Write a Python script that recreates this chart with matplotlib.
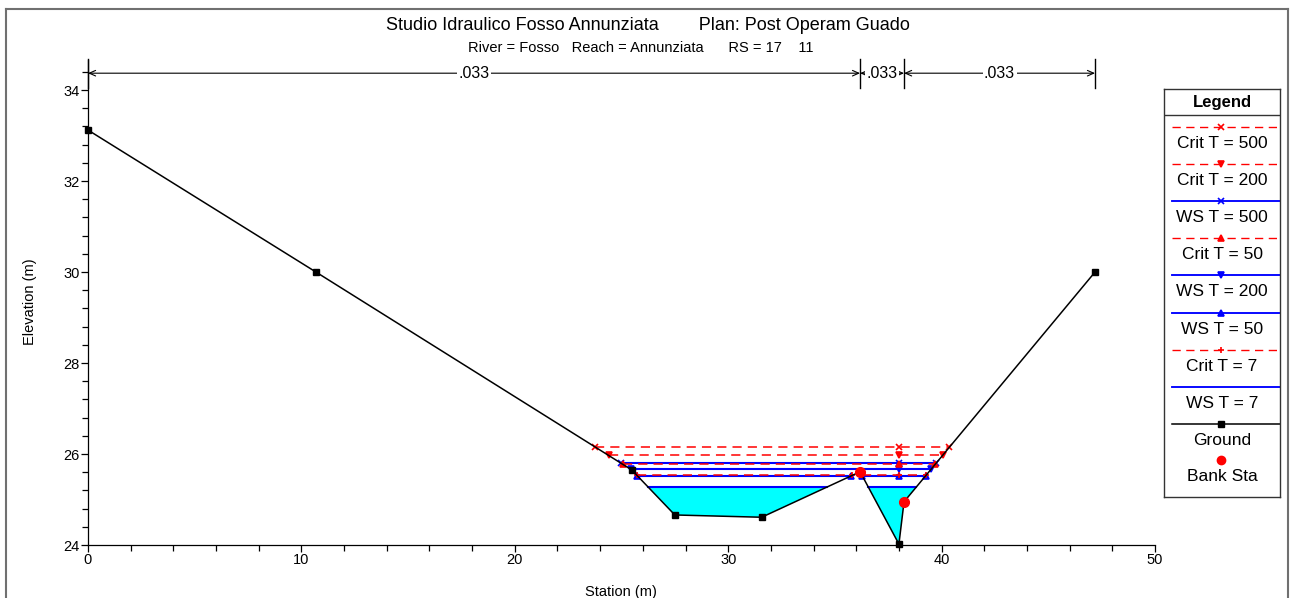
import numpy as np
import matplotlib
matplotlib.use("Agg")
import matplotlib.pyplot as plt
from matplotlib.lines import Line2D

plt.rcParams['font.family'] = ['Liberation Sans', 'DejaVu Sans']

# Geometria sezione (stazione, quota)
sta = [0.0, 10.68, 25.48, 27.5, 31.57, 36.18, 38.0, 38.24, 47.19]
elev = [33.12, 30.0, 25.65, 24.66, 24.61, 25.61, 24.02, 24.95, 30.0]
bank_sta = [36.18, 38.24]

# Manning
n_breaks = [0.0, 36.18, 38.24, 47.19]
n_values = [".033", ".033", ".033"]

# Profili (nome, quota)
profiles = ["Crit T = 500", "Crit T = 200", "WS T = 500", "Crit T = 50",
            "WS T = 200", "WS T = 50", "Crit T = 7", "WS T = 7"]
wsel = [26.15, 25.97, 25.80, 25.77, 25.66, 25.52, 25.53, 25.27]

styles = {
    "Crit T = 500": dict(color="#FF0000", ls=(0, (6, 4)), lw=1.1, marker="x", ms=5),
    "Crit T = 200": dict(color="#FF0000", ls=(0, (6, 4)), lw=1.1, marker="v", ms=5),
    "WS T = 500": dict(color="#0000FF", ls="-", lw=1.5, marker="x", ms=5),
    "Crit T = 50": dict(color="#FF0000", ls=(0, (6, 4)), lw=1.1, marker="^", ms=5),
    "WS T = 200": dict(color="#0000FF", ls="-", lw=1.5, marker="v", ms=5),
    "WS T = 50": dict(color="#0000FF", ls="-", lw=1.5, marker="^", ms=5),
    "Crit T = 7": dict(color="#FF0000", ls=(0, (6, 4)), lw=1.1, marker="+", ms=5),
    "WS T = 7": dict(color="#0000FF", ls="-", lw=1.5, marker=None, ms=5),
}


def wet_segments(level):
    """intervalli di stazione dove il terreno sta sotto la quota"""
    xs = []
    for i in range(len(sta) - 1):
        e0, e1 = elev[i] - level, elev[i + 1] - level
        if e0 * e1 < 0:
            xs.append(sta[i] + (sta[i + 1] - sta[i]) * e0 / (e0 - e1))
    return [(xs[k], xs[k + 1]) for k in range(0, len(xs) - 1, 2)]


fig = plt.figure(figsize=(12.91, 5.98), dpi=100)
ax = fig.add_axes([88 / 1291, 1 - 545 / 598, (1155 - 88) / 1291, (545 - 60) / 598])

x_thalweg = sta[int(np.argmin(elev))]

# acqua T=7 riempita
ws7 = wsel[profiles.index("WS T = 7")]
ax.fill_between(sta, elev, ws7, where=np.array(elev) < ws7, interpolate=True,
                color="#00FFFF", lw=0, zorder=1)

draw_order = ["WS T = 7", "WS T = 50", "WS T = 200", "WS T = 500",
              "Crit T = 7", "Crit T = 50", "Crit T = 200", "Crit T = 500"]
for name in draw_order:
    lvl = wsel[profiles.index(name)]
    st = styles[name]
    for x0, x1 in wet_segments(lvl):
        xp = [x0, x1]
        if x0 < x_thalweg < x1:
            xp = [x0, x_thalweg, x1]
        ax.plot(xp, [lvl] * len(xp), color=st["color"], ls=st["ls"], lw=st["lw"],
                marker=st["marker"], ms=st["ms"], mew=1.2, zorder=3)

# terreno
ax.plot(sta, elev, color="black", lw=1.1, marker="s", ms=5, zorder=4, clip_on=False)
bank_elev = np.interp(bank_sta, sta, elev)
ax.plot(bank_sta, bank_elev, "o", color="#FF0000", ms=7, zorder=5, ls="none")

# Manning
y_n = 34.37
for i in range(len(n_values)):
    ax.annotate("", xy=(n_breaks[i], y_n), xytext=(n_breaks[i + 1], y_n),
                arrowprops=dict(arrowstyle="<->,head_length=0.45,head_width=0.2",
                                lw=0.8, color="black", shrinkA=0, shrinkB=0),
                annotation_clip=False)
    ax.text((n_breaks[i] + n_breaks[i + 1]) / 2, y_n, n_values[i], ha="center",
            va="center", fontsize=11.5,
            bbox=dict(facecolor="white", edgecolor="none", pad=1.0))
for b in n_breaks:
    ax.plot([b, b], [34.04, 34.68], color="black", lw=1.0, clip_on=False)

ax.set_xlim(0, 50)
ax.set_ylim(24, 34.66)
ax.set_xticks(np.arange(0, 51, 10))
ax.set_xticks(np.arange(0, 51, 2), minor=True)
ax.set_yticks(np.arange(24, 35, 2))
ax.set_yticks(np.arange(24, 34.6, 0.4), minor=True)
ax.tick_params(which="major", length=5, width=0.9, labelsize=10.5, pad=1)
ax.tick_params(which="minor", length=4, width=0.9)
for s in ["top", "right"]:
    ax.spines[s].set_visible(False)
for s in ["left", "bottom"]:
    ax.spines[s].set_linewidth(0.9)

fig.text(30 / 1291, 1 - 302 / 598, "Elevation (m)", rotation=90, ha="center",
         va="center", fontsize=10.5)
fig.text(621 / 1291, 1 - 592 / 598, "Station (m)", ha="center", va="center",
         fontsize=10.5)

fig.text(648 / 1291, 1 - 25 / 598,
         "Studio Idraulico Fosso Annunziata        Plan: Post Operam Guado",
         ha="center", va="center", fontsize=13)
fig.text(641 / 1291, 1 - 48 / 598,
         "River = Fosso   Reach = Annunziata      RS = 17    11",
         ha="center", va="center", fontsize=10.5)

# cornice esterna
frame_c = "#707070"
fig.add_artist(Line2D([6 / 1291, 6 / 1291], [0, 1 - 9 / 598], color=frame_c, lw=1.5))
fig.add_artist(Line2D([6 / 1291, 1288 / 1291], [1 - 9 / 598, 1 - 9 / 598], color=frame_c, lw=1.5))
fig.add_artist(Line2D([1288 / 1291, 1288 / 1291], [0, 1 - 9 / 598], color=frame_c, lw=1.5))

# legenda
lax = fig.add_axes([1164 / 1291, 1 - 497 / 598, 116 / 1291, 408 / 598])
lax.set_xlim(0, 116)
lax.set_ylim(408, 0)
lax.set_xticks([])
lax.set_yticks([])
for s in lax.spines.values():
    s.set_linewidth(1.0)
    s.set_color("#333333")
lax.axhline(26, color="#333333", lw=1.0)
lax.text(58, 13, "Legend", ha="center", va="center", fontsize=12, fontweight="bold")
step = 37.1
for k, name in enumerate(profiles):
    st = styles[name]
    yl = 38 + k * step
    lax.plot([8, 116], [yl, yl], color=st["color"], ls=st["ls"], lw=st["lw"] * 0.9,
             clip_on=False)
    if st["marker"]:
        lax.plot([57], [yl], color=st["color"], marker=st["marker"], ms=4, mew=1.2)
    lax.text(58, yl + 16.5, name, ha="center", va="center", fontsize=12.5)
yg = 38 + len(profiles) * step
lax.plot([8, 116], [yg, yg], color="black", lw=1.1)
lax.plot([57], [yg], "s", color="black", ms=5)
lax.text(58, yg + 16.5, "Ground", ha="center", va="center", fontsize=12.5)
yb = yg + step - 1
lax.plot([57], [yb], "o", color="#FF0000", ms=6)
lax.text(58, yb + 17, "Bank Sta", ha="center", va="center", fontsize=12.5)

fig.savefig("out.png", dpi=100)
